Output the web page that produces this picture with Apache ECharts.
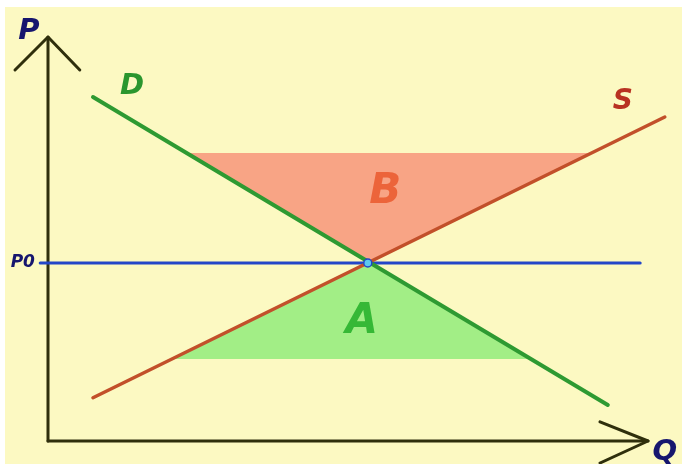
<!DOCTYPE html>
<html>
<head>
<meta charset="utf-8">
<script src="https://cdn.jsdelivr.net/npm/echarts@6/dist/echarts.min.js"></script>
<style>
  html, body { margin: 0; padding: 0; background: #fff; }
  #chart { width: 682px; height: 464px; }
</style>
</head>
<body>
<div id="chart"></div>
<script>
// 需求曲线 D、供给曲线 S（Q, P）
var demandLine = [[7.5, 86], [93.3, 9]];
var supplyLine = [[7.5, 10.8], [102.8, 81]];
var equilibrium = [53.3, 44.5];
var priceLine = [[-1.3, 44.5], [98.7, 44.5]];
// 阴影三角形
var areaB = [[23.4, 72], [90.2, 72], [53.3, 44.5]];
var areaA = [[20.9, 20.5], [80.2, 20.5], [53.3, 44.5]];
// 坐标轴和箭头
var pAxis = [[0, 0], [0, 101]];
var pArrow = [[-5.5, 92.75], [0, 101], [5.3, 92.75]];
var qAxis = [[0, 0], [100, 0]];
var qArrow = [[92, 4.8], [100, 0], [92, -5.5]];
// 文字
var axisNames = [['P', -3.2, 102.5], ['Q', 102.8, -2.9]];
var curveNames = [['D', 14, 88.75], ['S', 95.8, 84.75]];
var priceName = [['P0', -4.2, 44.5]];
var areaNames = [['B', 56.2, 62.3], ['A', 52.3, 29.8]];

var myChart = echarts.init(document.getElementById('chart'));

function line(data, color, width) {
  return {
    type: 'line', data: data, symbol: 'none', silent: true, clip: false,
    lineStyle: { color: color, width: width, cap: 'round', join: 'round' },
    z: 3
  };
}

function tri(data, color) {
  return {
    type: 'custom', silent: true, clip: false, z: 1,
    data: [0],
    renderItem: function (params, api) {
      var pts = data.map(function (p) { return api.coord(p); });
      return { type: 'polygon', shape: { points: pts }, style: { fill: color } };
    }
  };
}

function labels(list, color, size) {
  return {
    type: 'scatter', symbolSize: 0, silent: true, z: 5,
    itemStyle: { opacity: 1 },
    data: list.map(function (d) { return { name: d[0], value: [d[1], d[2]] }; }),
    label: {
      show: true, position: 'inside', formatter: '{b}',
      color: color, fontSize: size, fontWeight: 'bold', fontStyle: 'italic',
      fontFamily: 'DejaVu Sans', opacity: 1
    }
  };
}

var option = {
  animation: false,
  grid: {
    left: 5, top: 7, right: 0, bottom: 0,
    show: true, backgroundColor: '#fcf9c2', borderWidth: 0
  },
  xAxis: { type: 'value', min: -7.1667, max: 105.667, show: false },
  yAxis: { type: 'value', min: -5.75, max: 108.5, show: false },
  series: [
    tri(areaB, '#f8a485'),
    tri(areaA, '#a2ee86'),
    line(pAxis, '#2f2f0c', 3),
    line(pArrow, '#2f2f0c', 3),
    line(qAxis, '#2f2f0c', 3),
    line(qArrow, '#2f2f0c', 3),
    line(priceLine, '#2346c8', 3),
    line(supplyLine, '#c2502a', 3.5),
    line(demandLine, '#2e9a32', 4),
    {
      type: 'scatter', data: [equilibrium], symbolSize: 8, silent: true, z: 6,
      itemStyle: { color: '#5cc8f0', borderColor: '#2346c8', borderWidth: 1.5, opacity: 1 }
    },
    labels(axisNames, '#16166e', 29),
    labels(curveNames.slice(0, 1), '#2a962e', 29),
    labels(curveNames.slice(1), '#b83222', 28),
    labels(priceName, '#16166e', 17),
    labels(areaNames.slice(0, 1), '#ec643a', 42),
    labels(areaNames.slice(1), '#36b836', 42)
  ]
};

myChart.setOption(option);
</script>
</body>
</html>
